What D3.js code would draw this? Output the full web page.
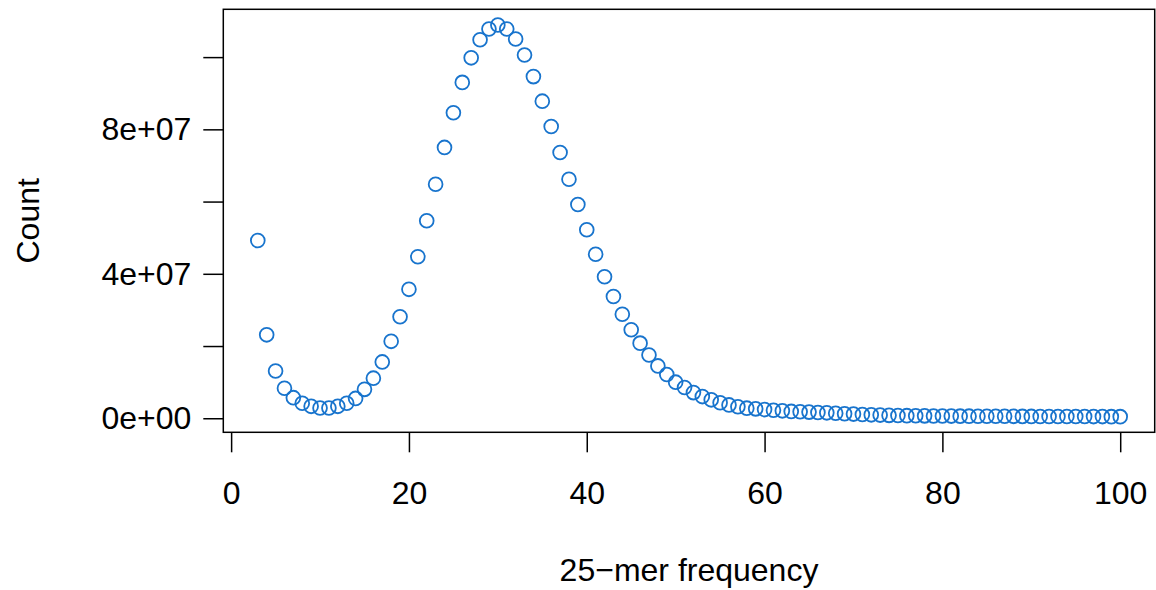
<!DOCTYPE html>
<html>
<head>
<meta charset="utf-8">
<script src="https://cdn.jsdelivr.net/npm/d3@7"></script>
<style>
  html, body { margin: 0; padding: 0; background: #fff; }
  svg { display: block; }
  text { font-family: "Liberation Sans", Arial, Helvetica, sans-serif; fill: #000; }
</style>
</head>
<body>
<svg id="chart" width="1156" height="590"></svg>
<script>
// ---- data ----
const frequencies = d3.range(3, 101);   // 25-mer frequency 3..100
const counts = [
  49200000, 23100000, 13100000, 8300000, 5700000, 4150000, 3300000, 2850000,   // 3-10
  2850000, 3300000, 4150000, 5500000, 8000000, 11100000, 15600000, 21300000,    // 11-18
  28100000, 35700000, 44700000, 54700000, 64800000, 75000000, 84600000, 93000000, // 19-26
  99800000, 104800000, 107800000, 108900000, 107800000, 105000000, 100600000, 94600000, // 27-34
  87800000, 80800000, 73600000, 66200000, 59200000, 52200000, 45400000, 39200000, // 35-42
  33700000, 28800000, 24500000, 20800000, 17500000, 14500000, 12100000, 10000000, // 43-50
  8500000, 7100000, 6000000, 5100000, 4300000, 3700000, 3200000, 2800000,        // 51-58
  2600000, 2400000, 2200000, 2050000, 1900000, 1800000, 1700000, 1600000,        // 59-66
  1500000, 1400000, 1250000, 1150000, 1050000, 950000, 880000, 800000,           // 67-74
  750000, 720000, 690000, 660000, 640000, 620000, 600000, 590000,                // 75-82
  580000, 570000, 560000, 550000, 540000, 530000, 520000, 510000,                // 83-90
  500000, 490000, 480000, 480000, 470000, 470000, 460000, 460000,                // 91-98
  450000, 450000                                                                 // 99-100
];
const xTicks = [0, 20, 40, 60, 80, 100];
const yTicks = [0, 2e7, 4e7, 6e7, 8e7, 1e8];
const yTickLabels = ["0e+00", "", "4e+07", "", "8e+07", ""];
const xTitle = "25\u2212mer frequency";
const yTitle = "Count";

// ---- layout ----
const svg = d3.select("#chart");
const plot = { left: 223.3, right: 1154.7, top: 9.3, bottom: 432.3 };
const pointColor = "#1874CD";
const fontSize = 32;

// R-style 4% axis extension
function extend(ext) { const d = (ext[1] - ext[0]) * 0.04; return [ext[0] - d, ext[1] + d]; }
const data = frequencies.map((f, i) => ({ f, c: counts[i] }));

const x = d3.scaleLinear().domain(extend(d3.extent(frequencies))).range([plot.left, plot.right]);
const y = d3.scaleLinear().domain(extend(d3.extent(counts))).range([plot.bottom, plot.top]);

// x axis (ticks below box)
const xAxis = d3.axisBottom(x).tickValues(xTicks).tickSize(20).tickPadding(29).tickFormat(d3.format("d"));
const gx = svg.append("g").attr("transform", `translate(0,${plot.bottom})`).call(xAxis);
gx.select(".domain").remove();
gx.selectAll(".tick line").attr("stroke", "#000").attr("stroke-width", 1.5);
gx.selectAll(".tick text").attr("font-size", fontSize).attr("font-family", "Liberation Sans, Arial, sans-serif");

// y axis
const yAxis = d3.axisLeft(y).tickValues(yTicks).tickSize(20).tickPadding(12)
  .tickFormat((d, i) => yTickLabels[i]);
const gy = svg.append("g").attr("transform", `translate(${plot.left},0)`).call(yAxis);
gy.select(".domain").remove();
gy.selectAll(".tick line").attr("stroke", "#000").attr("stroke-width", 1.5);
gy.selectAll(".tick text").attr("font-size", fontSize).attr("font-family", "Liberation Sans, Arial, sans-serif");

// box
svg.append("rect")
  .attr("x", plot.left).attr("y", plot.top)
  .attr("width", plot.right - plot.left).attr("height", plot.bottom - plot.top)
  .attr("fill", "none").attr("stroke", "#000").attr("stroke-width", 1.5);

// points
svg.append("g").selectAll("circle").data(data).enter().append("circle")
  .attr("cx", d => x(d.f)).attr("cy", d => y(d.c)).attr("r", 6.9)
  .attr("fill", "none").attr("stroke", pointColor).attr("stroke-width", 1.8);

// titles
svg.append("text").attr("x", (plot.left + plot.right) / 2).attr("y", 581)
  .attr("text-anchor", "middle").attr("font-size", fontSize).text(xTitle);
svg.append("text").attr("transform", `translate(39,${(plot.top + plot.bottom) / 2}) rotate(-90)`)
  .attr("text-anchor", "middle").attr("font-size", fontSize).text(yTitle);
</script>
</body>
</html>
